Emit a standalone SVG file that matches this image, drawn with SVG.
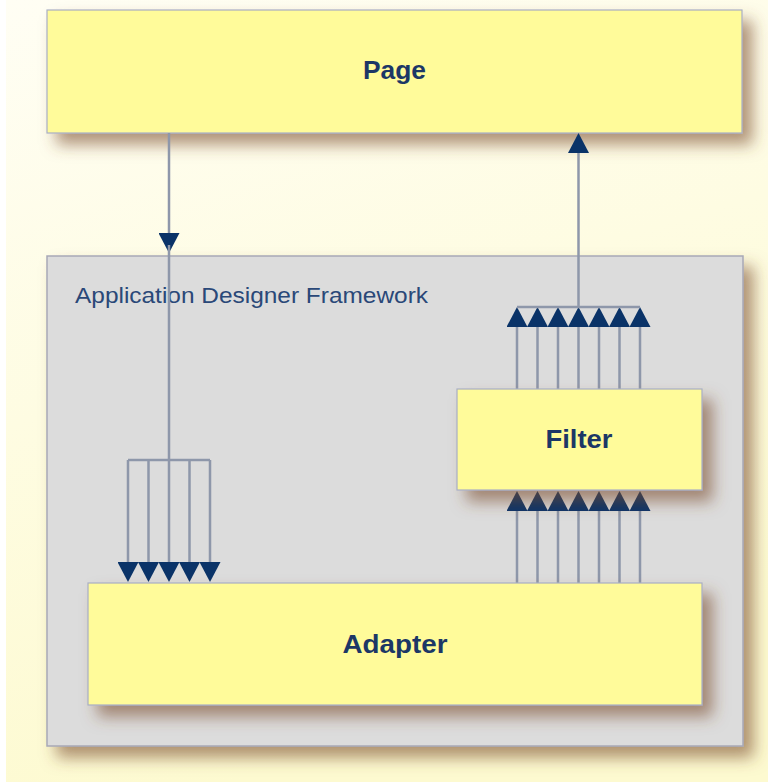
<svg xmlns="http://www.w3.org/2000/svg" width="768" height="782" viewBox="0 0 768 782">
  <defs>
    <linearGradient id="bg" x1="0" y1="0" x2="0.3" y2="1">
      <stop offset="0" stop-color="#fffef4"/>
      <stop offset="1" stop-color="#fdfad0"/>
    </linearGradient>
    <filter id="sh" x="-10%" y="-10%" width="130%" height="150%">
      <feDropShadow dx="10" dy="11" stdDeviation="8" flood-color="#7a4e2c" flood-opacity="0.6"/>
    </filter>
    <marker id="ah" markerUnits="userSpaceOnUse" markerWidth="20" markerHeight="21" viewBox="0 0 20 21" refX="12" refY="10.5" orient="auto">
      <path d="M0,0 L20,10.5 L0,21 Z" fill="#0a3368"/>
    </marker>
    <style>
      .box { fill: #fffb9a; stroke: #a9aec4; stroke-width: 1.2; filter: url(#sh); }
      .frame { fill: #dcdcdc; stroke: #a8a8b6; stroke-width: 1.5; filter: url(#sh); }
      .lbl { font-family: "Liberation Sans", Arial, sans-serif; font-weight: bold; font-size: 26px; fill: #1c3766; text-anchor: middle; }
      .flbl { font-family: "Liberation Sans", Arial, sans-serif; font-size: 22px; fill: #2a4878; }
      .ln { stroke: #8e97aa; stroke-width: 2.5; fill: none; }
      .arr { stroke: #8e97aa; stroke-width: 2.5; fill: none; marker-end: url(#ah); }
    </style>
  </defs>

  <rect x="6" y="0" width="762" height="782" fill="url(#bg)"/>

  <g id="framework">
    <rect class="frame" x="47" y="256" width="696" height="490"/>
    <text class="flbl" x="75" y="303" textLength="353" lengthAdjust="spacingAndGlyphs">Application Designer Framework</text>
  </g>

  <g id="page">
    <rect class="box" x="47" y="10" width="695" height="123"/>
    <text class="lbl" x="394.5" y="79" textLength="63" lengthAdjust="spacingAndGlyphs">Page</text>
  </g>

  <g id="connectors">
    <!-- Page down to framework -->
    <path class="arr" d="M169,133 L169,245"/>
    <path class="ln" d="M169,245 L169,460"/>
    <path class="ln" d="M128,460 L210,460"/>
    <path class="arr" d="M128,460 L128,574"/>
    <path class="arr" d="M148.5,460 L148.5,574"/>
    <path class="arr" d="M169,460 L169,574"/>
    <path class="arr" d="M189.5,460 L189.5,574"/>
    <path class="arr" d="M210,460 L210,574"/>

    <!-- Adapter up to Filter -->
    <path class="arr" d="M517,583 L517,499"/>
    <path class="arr" d="M537.5,583 L537.5,499"/>
    <path class="arr" d="M558,583 L558,499"/>
    <path class="arr" d="M578.5,583 L578.5,499"/>
    <path class="arr" d="M599,583 L599,499"/>
    <path class="arr" d="M619.5,583 L619.5,499"/>
    <path class="arr" d="M640,583 L640,499"/>

    <!-- Filter up -->
    <path class="arr" d="M517,389 L517,315"/>
    <path class="arr" d="M537.5,389 L537.5,315"/>
    <path class="arr" d="M558,389 L558,315"/>
    <path class="arr" d="M578.5,389 L578.5,315"/>
    <path class="arr" d="M599,389 L599,315"/>
    <path class="arr" d="M619.5,389 L619.5,315"/>
    <path class="arr" d="M640,389 L640,315"/>
    <path class="ln" d="M517,307 L640,307" stroke-width="1.5"/>
    <path class="arr" d="M578.5,307 L578.5,141"/>
  </g>

  <g id="filter">
    <rect class="box" x="457" y="389" width="245" height="101"/>
    <text class="lbl" x="579" y="448" textLength="67" lengthAdjust="spacingAndGlyphs">Filter</text>
  </g>

  <g id="adapter">
    <rect class="box" x="88" y="583" width="614" height="122"/>
    <text class="lbl" x="395" y="653" textLength="105" lengthAdjust="spacingAndGlyphs">Adapter</text>
  </g>
</svg>
